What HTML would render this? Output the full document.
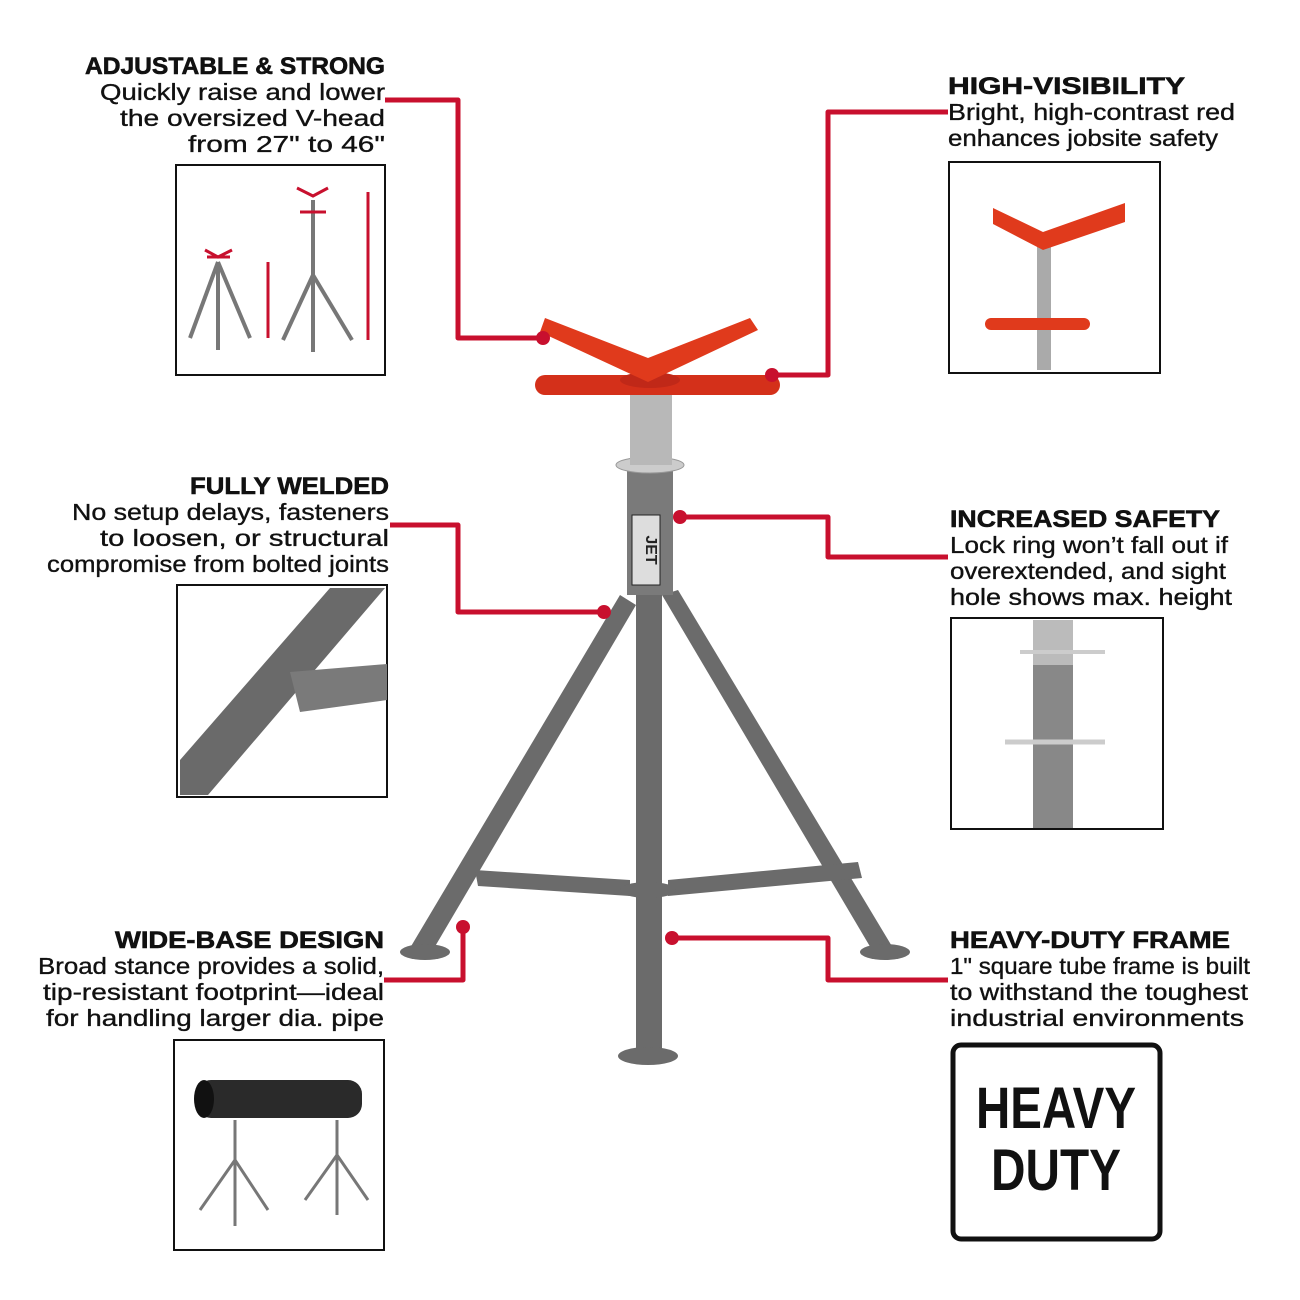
<!DOCTYPE html>
<html><head><meta charset="utf-8"><style>
html,body{margin:0;padding:0;background:#fff;}
svg{display:block;}
.h{font-family:"Liberation Sans",sans-serif;font-weight:900;font-size:24px;fill:#111;stroke:#111;stroke-width:0.6;}
.b{font-family:"Liberation Sans",sans-serif;font-size:23px;fill:#111;stroke:#111;stroke-width:0.35;}
</style></head><body>
<svg width="1300" height="1300" viewBox="0 0 1300 1300" xmlns="http://www.w3.org/2000/svg">
<g text-anchor="end" lengthAdjust="spacingAndGlyphs">
<text class="h" x="385" y="74" textLength="300" lengthAdjust="spacingAndGlyphs">ADJUSTABLE &amp; STRONG</text>
<text class="b" x="385" y="100" textLength="285" lengthAdjust="spacingAndGlyphs">Quickly raise and lower</text>
<text class="b" x="385" y="126" textLength="265" lengthAdjust="spacingAndGlyphs">the oversized V-head</text>
<text class="b" x="385" y="152" textLength="197" lengthAdjust="spacingAndGlyphs">from 27" to 46"</text>
<text class="h" x="389" y="494" textLength="199" lengthAdjust="spacingAndGlyphs">FULLY WELDED</text>
<text class="b" x="389" y="520" textLength="317" lengthAdjust="spacingAndGlyphs">No setup delays, fasteners</text>
<text class="b" x="389" y="546" textLength="289" lengthAdjust="spacingAndGlyphs">to loosen, or structural</text>
<text class="b" x="389" y="572" textLength="342" lengthAdjust="spacingAndGlyphs">compromise from bolted joints</text>
<text class="h" x="384" y="948" textLength="269" lengthAdjust="spacingAndGlyphs">WIDE-BASE DESIGN</text>
<text class="b" x="384" y="974" textLength="346" lengthAdjust="spacingAndGlyphs">Broad stance provides a solid,</text>
<text class="b" x="384" y="1000" textLength="341" lengthAdjust="spacingAndGlyphs">tip-resistant footprint—ideal</text>
<text class="b" x="384" y="1026" textLength="338" lengthAdjust="spacingAndGlyphs">for handling larger dia. pipe</text>
</g>
<g>
<text class="h" x="948" y="94" textLength="237" lengthAdjust="spacingAndGlyphs">HIGH-VISIBILITY</text>
<text class="b" x="948" y="120" textLength="287" lengthAdjust="spacingAndGlyphs">Bright, high-contrast red</text>
<text class="b" x="948" y="146" textLength="270" lengthAdjust="spacingAndGlyphs">enhances jobsite safety</text>
<text class="h" x="950" y="527" textLength="270" lengthAdjust="spacingAndGlyphs">INCREASED SAFETY</text>
<text class="b" x="950" y="553" textLength="278" lengthAdjust="spacingAndGlyphs">Lock ring won’t fall out if</text>
<text class="b" x="950" y="579" textLength="276" lengthAdjust="spacingAndGlyphs">overextended, and sight</text>
<text class="b" x="950" y="605" textLength="282" lengthAdjust="spacingAndGlyphs">hole shows max. height</text>
<text class="h" x="950" y="948" textLength="280" lengthAdjust="spacingAndGlyphs">HEAVY-DUTY FRAME</text>
<text class="b" x="950" y="974" textLength="300" lengthAdjust="spacingAndGlyphs">1" square tube frame is built</text>
<text class="b" x="950" y="1000" textLength="298" lengthAdjust="spacingAndGlyphs">to withstand the toughest</text>
<text class="b" x="950" y="1026" textLength="294" lengthAdjust="spacingAndGlyphs">industrial environments</text>
</g>
<g fill="#fff" stroke="#111" stroke-width="2">
<rect x="176" y="165" width="209" height="210"/>
<rect x="949" y="162" width="211" height="211"/>
<rect x="177" y="585" width="210" height="212"/>
<rect x="951" y="618" width="212" height="211"/>
<rect x="174" y="1040" width="210" height="210"/>
</g>
<rect x="953" y="1045" width="207" height="194" rx="8" fill="#fff" stroke="#111" stroke-width="5"/>
<text x="1056" y="1128" text-anchor="middle" font-family="Liberation Sans,sans-serif" font-weight="bold" font-size="58" fill="#111" textLength="160" lengthAdjust="spacingAndGlyphs">HEAVY</text>
<text x="1056" y="1190" text-anchor="middle" font-family="Liberation Sans,sans-serif" font-weight="bold" font-size="58" fill="#111" textLength="130" lengthAdjust="spacingAndGlyphs">DUTY</text>
<g stroke="#777" stroke-width="4" fill="none">
<line x1="218" y1="262" x2="190" y2="338"/><line x1="218" y1="262" x2="250" y2="338"/><line x1="218" y1="262" x2="218" y2="350"/>
<line x1="313" y1="275" x2="283" y2="340"/><line x1="313" y1="275" x2="352" y2="340"/><line x1="313" y1="200" x2="313" y2="352"/>
</g>
<g stroke="#c8102e" stroke-width="3">
<line x1="207" y1="257" x2="230" y2="257"/><line x1="300" y1="212" x2="326" y2="212"/>
<line x1="268" y1="262" x2="268" y2="338"/><line x1="368" y1="192" x2="368" y2="340"/>
<path d="M205 250 L218 257 L232 250 M297 188 L313 196 L328 188" fill="none"/>
</g>
<rect x="1037" y="240" width="14" height="130" fill="#aaa"/>
<path d="M993 208 L1043 232 L1125 203 L1125 222 L1043 250 L993 224Z" fill="#e03a1c"/>
<rect x="985" y="318" width="105" height="12" rx="6" fill="#e03a1c"/>
<g fill="#6a6a6a">
<path d="M180 760 L330 588 L385 588 L208 795 L180 795Z"/>
<path d="M290 672 L387 664 L387 700 L300 712Z" fill="#7a7a7a"/>
</g>
<rect x="1033" y="620" width="40" height="208" fill="#888"/>
<rect x="1033" y="620" width="40" height="45" fill="#bbb"/>
<path d="M1005 742 L1105 742" stroke="#ccc" stroke-width="5"/>
<path d="M1020 652 L1105 652" stroke="#ccc" stroke-width="4"/>
<rect x="197" y="1080" width="165" height="38" rx="14" fill="#2a2a2a"/>
<ellipse cx="204" cy="1099" rx="10" ry="19" fill="#111"/>
<g stroke="#777" stroke-width="3" fill="none">
<line x1="235" y1="1120" x2="235" y2="1226"/><line x1="235" y1="1160" x2="200" y2="1210"/><line x1="235" y1="1160" x2="268" y2="1210"/>
<line x1="337" y1="1120" x2="337" y2="1215"/><line x1="337" y1="1155" x2="305" y2="1200"/><line x1="337" y1="1155" x2="368" y2="1200"/>
</g>
<g fill="#6b6b6b">
<path d="M620 595 L636 605 L430 955 L410 948Z"/>
<path d="M662 595 L678 590 L893 948 L875 955Z"/>
<path d="M475 870 L630 880 L630 896 L478 886Z"/>
<path d="M668 880 L858 862 L862 878 L668 896Z"/>
<rect x="636" y="590" width="26" height="460"/>
<ellipse cx="425" cy="952" rx="25" ry="8"/>
<ellipse cx="885" cy="952" rx="25" ry="8"/>
<ellipse cx="648" cy="1056" rx="30" ry="9"/>
<ellipse cx="648" cy="890" rx="28" ry="8"/>
</g>
<rect x="627" y="470" width="46" height="125" fill="#7a7a7a"/>
<rect x="632" y="515" width="28" height="70" fill="#ddd" stroke="#222"/>
<text x="646" y="550" transform="rotate(90 646 550)" text-anchor="middle" font-family="Liberation Sans,sans-serif" font-weight="bold" font-size="16" fill="#222">JET</text>
<ellipse cx="650" cy="465" rx="34" ry="8" fill="#ccc" stroke="#999"/>
<rect x="630" y="395" width="42" height="70" fill="#b8b8b8"/>
<rect x="535" y="375" width="245" height="20" rx="10" fill="#d4301a"/>
<ellipse cx="650" cy="380" rx="30" ry="8" fill="#c02818"/>
<path d="M545 318 L648 358 L750 318 L758 330 L648 382 L540 332Z" fill="#e03a1c"/>
<g stroke="#c8102e" stroke-width="5" fill="none" stroke-linejoin="round">
<path d="M385 100 H458 V338 H543"/>
<path d="M948 112 H828 V375 H772"/>
<path d="M390 525 H458 V612 H604"/>
<path d="M948 557 H828 V517 H680"/>
<path d="M384 980 H463 V927"/>
<path d="M948 980 H828 V938 H672"/>
</g>
<g fill="#c8102e">
<circle cx="543" cy="338" r="7"/><circle cx="772" cy="375" r="7"/>
<circle cx="604" cy="612" r="7"/><circle cx="680" cy="517" r="7"/>
<circle cx="463" cy="927" r="7"/><circle cx="672" cy="938" r="7"/>
</g>
</svg>
</body></html>
